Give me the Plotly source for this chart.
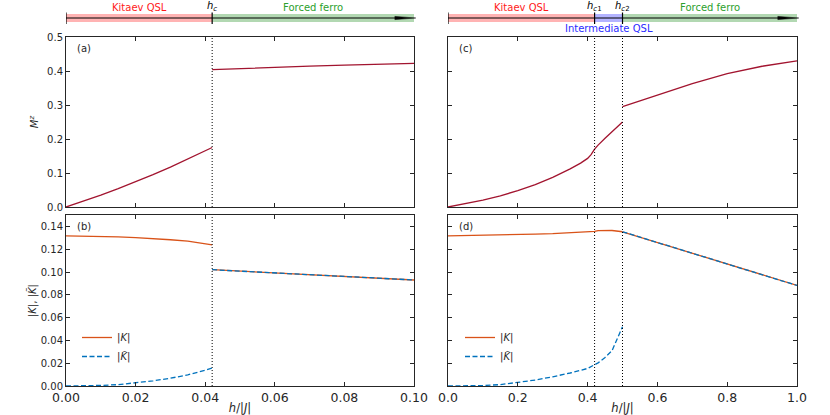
import plotly.graph_objects as go
from plotly.subplots import make_subplots

# critical fields
HC_LEFT = 0.042
HC1_RIGHT = 0.42
HC2_RIGHT = 0.5

# (a) M^z, left model
h_a_low = [0.0, 0.005, 0.01, 0.015, 0.02, 0.025, 0.03, 0.035, 0.04, 0.042]
m_a_low = [0.0, 0.0169, 0.0349, 0.0539, 0.074, 0.0951, 0.1174, 0.1406, 0.165, 0.175]
h_a_high = [0.042, 0.05, 0.06, 0.07, 0.08, 0.09, 0.1]
m_a_high = [0.404, 0.4075, 0.411, 0.4145, 0.4175, 0.42, 0.4225]

# (b) |K| and |K~|, left model
h_b_low = [0.0, 0.005, 0.01, 0.015, 0.02, 0.025, 0.03, 0.035, 0.04, 0.042]
k_b_low = [0.1317, 0.1316, 0.1313, 0.1308, 0.1302, 0.1294, 0.1283, 0.127, 0.125, 0.1238]
kt_b_low = [0.0, 0.0001, 0.0005, 0.0012, 0.0027, 0.0045, 0.0068, 0.0098, 0.0138, 0.0157]
h_b_high = [0.042, 0.06, 0.08, 0.1]
k_b_high = [0.102, 0.0993, 0.0962, 0.093]

# (c) M^z, right model
h_c_low = [0.0, 0.05, 0.1, 0.15, 0.2, 0.25, 0.3, 0.35, 0.38, 0.4, 0.41, 0.42]
m_c_low = [0.0, 0.009, 0.02, 0.033, 0.048, 0.066, 0.087, 0.112, 0.129, 0.143, 0.154, 0.17]
h_c_mid = [0.42, 0.43, 0.45, 0.47, 0.5]
m_c_mid = [0.17, 0.182, 0.202, 0.222, 0.25]
h_c_high = [0.5, 0.55, 0.6, 0.7, 0.8, 0.9, 1.0]
m_c_high = [0.295, 0.312, 0.328, 0.363, 0.392, 0.414, 0.43]

# (d) |K| and |K~|, right model
h_d_low = [0.0, 0.05, 0.1, 0.15, 0.2, 0.25, 0.3, 0.35, 0.4, 0.42, 0.43, 0.45, 0.47, 0.5]
k_d_low = [0.1317, 0.1319, 0.1322, 0.1325, 0.1329, 0.1333, 0.1337, 0.1343, 0.135, 0.1356, 0.1363, 0.1366, 0.1364, 0.1353]
kt_d_low = [0.0, 0.0001, 0.0004, 0.0012, 0.003, 0.0052, 0.0081, 0.0114, 0.0154, 0.0183, 0.0203, 0.025, 0.031, 0.052]
h_d_high = [0.5, 0.6, 0.7, 0.8, 0.9, 1.0]
k_d_high = [0.1353, 0.1259, 0.1165, 0.1071, 0.0976, 0.0882]

# colors
M_COLOR = '#a2142f'
K_COLOR = '#d95319'
KT_COLOR = '#0072bd'
AXIS_COLOR = '#262626'
RED_BAND = '#ffb3b3'
GREEN_BAND = '#b2d8b2'
BLUE_BAND = '#b3b3ff'
RED_TEXT = '#ff1a1a'
GREEN_TEXT = '#2ca02c'
BLUE_TEXT = '#2b2bff'

FONT = 'DejaVu Sans'
LW = 1.3
DASH = '5px,2.5px'

fig = make_subplots(rows=2, cols=2)

def line(x, y, color, row, col, dash=None, name=None, legend=None):
    fig.add_trace(go.Scatter(x=x, y=y, mode='lines',
                             line=dict(color=color, width=LW, dash=dash),
                             name=name, showlegend=name is not None,
                             legend=legend), row=row, col=col)

line(h_a_low, m_a_low, M_COLOR, 1, 1)
line(h_a_high, m_a_high, M_COLOR, 1, 1)
line(h_c_low, m_c_low, M_COLOR, 1, 2)
line(h_c_mid, m_c_mid, M_COLOR, 1, 2)
line(h_c_high, m_c_high, M_COLOR, 1, 2)

K_NAME = '|<i>K</i>|'
KT_NAME = '|<i>K\u0303</i>|'
line(h_b_low, k_b_low, K_COLOR, 2, 1, name=K_NAME, legend='legend')
line(h_b_high, k_b_high, K_COLOR, 2, 1)
line(h_b_low, kt_b_low, KT_COLOR, 2, 1, dash=DASH, name=KT_NAME, legend='legend')
line(h_b_high, k_b_high, KT_COLOR, 2, 1, dash=DASH)

line(h_d_low, k_d_low, K_COLOR, 2, 2, name=K_NAME, legend='legend2')
line(h_d_high, k_d_high, K_COLOR, 2, 2)
line(h_d_low, kt_d_low, KT_COLOR, 2, 2, dash=DASH, name=KT_NAME, legend='legend2')
line(h_d_high, k_d_high, KT_COLOR, 2, 2, dash=DASH)

# plot area in page pixels
PLOT_L, PLOT_R, PLOT_T, PLOT_B = 66, 797, 37, 386
PW = PLOT_R - PLOT_L
PH = PLOT_B - PLOT_T
def px_x(p):
    return (p - PLOT_L) / PW
def px_y(p):
    return (PLOT_B - p) / PH

axis_style = dict(showline=True, linecolor=AXIS_COLOR, linewidth=1, mirror='ticks',
                  ticks='inside', ticklen=4, tickcolor=AXIS_COLOR, showgrid=False,
                  zeroline=False, automargin=False)
fig.update_xaxes(tickfont=dict(size=12.5, color=AXIS_COLOR), **axis_style)
fig.update_yaxes(tickfont=dict(size=10, color=AXIS_COLOR), **axis_style)

left_dom = [0, px_x(414)]
right_dom = [px_x(448), 1]
top_dom = [px_y(207), 1]
bot_dom = [0, px_y(215)]
xtitle = dict(text='<i>h</i>/|<i>J</i>|', standoff=0, font=dict(size=11.5))

fig.update_layout(
    xaxis=dict(domain=left_dom, range=[0, 0.1], dtick=0.02, showticklabels=False),
    xaxis2=dict(domain=right_dom, range=[0, 1], dtick=0.2, showticklabels=False),
    xaxis3=dict(domain=left_dom, range=[0, 0.1], dtick=0.02, tickformat='.2f', title=xtitle),
    xaxis4=dict(domain=right_dom, range=[0, 1], dtick=0.2, tickformat='.1f', title=xtitle),
    yaxis=dict(domain=top_dom, range=[0, 0.5], dtick=0.1, tickformat='.1f',
               title=dict(text='<i>M<sup>z</sup></i>', standoff=6, font=dict(size=10))),
    yaxis2=dict(domain=top_dom, range=[0, 0.5], dtick=0.1, showticklabels=False),
    yaxis3=dict(domain=bot_dom, range=[0, 0.15], dtick=0.02, tickformat='.2f',
                title=dict(text='|<i>K</i>|, |<i>K\u0303</i>|', standoff=2, font=dict(size=10))),
    yaxis4=dict(domain=bot_dom, range=[0, 0.15], dtick=0.02, showticklabels=False),
)

# dotted critical lines through both panels
for xr, yr, hc in [('x', 'y', HC_LEFT), ('x3', 'y3', HC_LEFT),
                   ('x2', 'y2', HC1_RIGHT), ('x2', 'y2', HC2_RIGHT),
                   ('x4', 'y4', HC1_RIGHT), ('x4', 'y4', HC2_RIGHT)]:
    fig.add_shape(type='line', xref=xr, yref=yr + ' domain', x0=hc, x1=hc, y0=0, y1=1,
                  line=dict(color='black', width=1, dash='1px,2px'))

# phase bars above the top panels
BAR_Y = px_y(18)
BAND_LO, BAND_HI = px_y(22), px_y(14)
TICK_LO, TICK_HI = px_y(24), px_y(12.5)
TEXT_Y = px_y(8)

def band(xr, x0, x1, color):
    fig.add_shape(type='rect', xref=xr, yref='paper', x0=x0, x1=x1, y0=BAND_LO, y1=BAND_HI,
                  fillcolor=color, line_width=0, layer='above')

def bar_tick(xr, x):
    fig.add_shape(type='line', xref=xr, yref='paper', x0=x, x1=x, y0=TICK_LO, y1=TICK_HI,
                  line=dict(color='black', width=1.2))

def bar_arrow(xr):
    fig.add_shape(type='line', xref=xr + ' domain', yref='paper', x0=0, x1=0.96,
                  y0=BAR_Y, y1=BAR_Y, line=dict(color='black', width=1.2))
    hw = 1.6 / PH
    fig.add_shape(type='path', xref=xr + ' domain', yref='paper',
                  path=f'M 0.945,{BAR_Y - hw} L 1.005,{BAR_Y} L 0.945,{BAR_Y + hw} Z',
                  fillcolor='black', line=dict(color='black', width=0.5))

def bar_text(xr, x, y, text, color):
    fig.add_annotation(xref=xr, yref='paper', x=x, y=y, text=text, showarrow=False,
                       font=dict(size=10, color=color, family=FONT),
                       xanchor='center', yanchor='middle')

band('x', 0, HC_LEFT, RED_BAND)
band('x', HC_LEFT, 0.1035, GREEN_BAND)
bar_arrow('x')
bar_tick('x', 0)
bar_tick('x', HC_LEFT)
bar_text('x', HC_LEFT / 2, TEXT_Y, 'Kitaev QSL', RED_TEXT)
bar_text('x', (HC_LEFT + 0.1) / 2, TEXT_Y, 'Forced ferro', GREEN_TEXT)
bar_text('x', HC_LEFT, px_y(7), '<i>h<sub>c</sub></i>', 'black')

band('x2', 0, HC1_RIGHT, RED_BAND)
band('x2', HC1_RIGHT, HC2_RIGHT, BLUE_BAND)
band('x2', HC2_RIGHT, 1.0, GREEN_BAND)
bar_arrow('x2')
bar_tick('x2', 0)
bar_tick('x2', HC1_RIGHT)
bar_tick('x2', HC2_RIGHT)
bar_text('x2', HC1_RIGHT / 2, TEXT_Y, 'Kitaev QSL', RED_TEXT)
bar_text('x2', (HC2_RIGHT + 1) / 2, TEXT_Y, 'Forced ferro', GREEN_TEXT)
bar_text('x2', HC1_RIGHT, px_y(7), '<i>h</i><sub><i>c</i>1</sub>', 'black')
bar_text('x2', HC2_RIGHT, px_y(7), '<i>h</i><sub><i>c</i>2</sub>', 'black')
bar_text('x2', (HC1_RIGHT + HC2_RIGHT) / 2, px_y(28), 'Intermediate QSL', BLUE_TEXT)

# panel labels
for xr, yr, lab in [('x', 'y', '(a)'), ('x2', 'y2', '(c)'), ('x3', 'y3', '(b)'), ('x4', 'y4', '(d)')]:
    fig.add_annotation(xref=xr + ' domain', yref=yr + ' domain', x=0.025, y=0.975,
                       text=lab, showarrow=False, xanchor='left', yanchor='top',
                       font=dict(size=10, color=AXIS_COLOR))

legend_style = dict(bgcolor='rgba(0,0,0,0)', borderwidth=0, font=dict(size=10, color=AXIS_COLOR),
                    tracegroupgap=0, itemwidth=30, xanchor='left', yanchor='top')
fig.update_layout(
    legend=dict(x=px_x(77), y=px_y(323), **legend_style),
    legend2=dict(x=px_x(460), y=px_y(323), **legend_style),
    width=830, height=415,
    margin=dict(l=PLOT_L, r=830 - PLOT_R, t=PLOT_T, b=415 - PLOT_B, autoexpand=False),
    plot_bgcolor='white', paper_bgcolor='white',
    font=dict(family=FONT, size=10, color=AXIS_COLOR),
)

# drop the default body margin so the figure sits at the page corner; no modebar
fig.write_html("out.html", config={'displayModeBar': False},
               post_script="document.body.style.margin = '0';")
